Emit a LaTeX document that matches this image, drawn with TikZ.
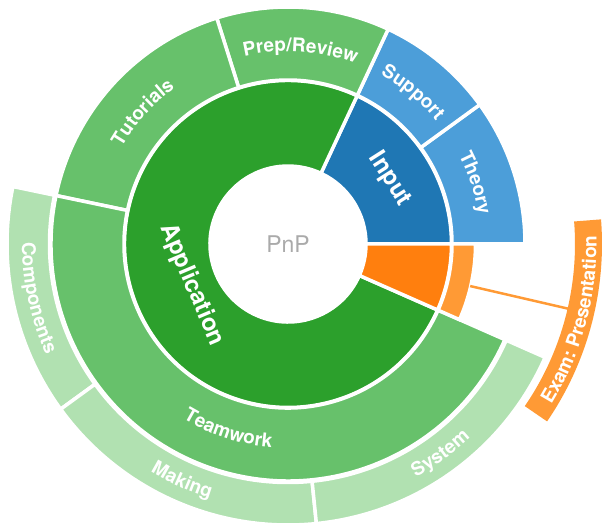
\documentclass[tikz,border=0pt]{standalone}
\usepackage{fontspec}
\setmainfont{TeX Gyre Heros}
\usetikzlibrary{decorations.text}
\definecolor{inputblue}{HTML}{1F77B4}
\definecolor{appgreen}{HTML}{2CA02C}
\definecolor{examorange}{HTML}{FF7F0E}
\definecolor{lightblue}{HTML}{4C9ED9}
\definecolor{midgreen}{HTML}{67C16B}
\definecolor{palegreen}{HTML}{B1E1B1}
\definecolor{lightorange}{HTML}{FF9A35}
\definecolor{centergrey}{HTML}{AAAAAA}
% annular sector: start angle, end angle, inner radius, outer radius, colour
\newcommand\sunseg[5]{%
  \filldraw[fill=#5, draw=white, line width=3.5pt]
    (#1:#4) arc[start angle=#1, end angle=#2, radius=#4]
    -- (#2:#3) arc[start angle=#2, end angle=#1, radius=#3] -- cycle;}
% label set along an arc: from angle, to angle, baseline radius, text
\newcommand\arclabel[4]{%
  \path[decorate, decoration={text along path, text align=center,
      text color=white, text={|\bfseries\fontsize{19}{19}\selectfont|#4}}]
    (#1:#3) arc[start angle=#1, end angle=#2, radius=#3];}
\begin{document}
\begin{tikzpicture}[x=1pt, y=1pt,
  biglabel/.style={text=white, font=\bfseries\fontsize{24}{24}\selectfont, inner sep=0pt}]
\useasboundingbox (0,0) rectangle (608,523);
\clip (0,0) rectangle (608,523);
\begin{scope}[shift={(288,279)}]
  % inner ring
  \sunseg{0}{65}{78}{163.5}{inputblue}
  \sunseg{65}{336.2}{78}{163.5}{appgreen}
  \sunseg{-23.8}{0}{78}{163.5}{examorange}
  % middle ring
  \sunseg{0}{36}{164}{237}{lightblue}
  \sunseg{36}{65}{164}{237}{lightblue}
  \sunseg{65}{107.5}{164}{237}{midgreen}
  \sunseg{107.5}{168.2}{164}{237}{midgreen}
  \sunseg{168.2}{336.2}{164}{237}{midgreen}
  \sunseg{-23.8}{0}{164}{187.5}{lightorange}
  % outer ring
  \sunseg{168.2}{216}{238.5}{281}{palegreen}
  \sunseg{216}{275.8}{238.5}{281}{palegreen}
  \sunseg{275.8}{336.2}{238.5}{281}{palegreen}
  % detached label band for the exam
  \fill[lightorange] (-34.4:314) arc[start angle=-34.4, end angle=4.5, radius=314]
    -- (4.5:287) arc[start angle=4.5, end angle=-34.4, radius=287] -- cycle;
  \coordinate (examfrom) at (-13:187);
  \coordinate (examto) at (-13:287.5);
  \draw[lightorange, line width=2.5pt] (examfrom) -- (examto);
  % labels of the inner ring
  \node[text=centergrey, font=\fontsize{23}{23}\selectfont] (pnp) at (0,0) {PnP};
  \node[biglabel, rotate=-57.5] (input) at (32.5:120.5) {Input};
  \node[biglabel, rotate=-67] (application) at (203:104.5) {Application};
  % labels of the middle ring
  \arclabel{36}{0}{192.5}{Theory}
  \arclabel{65}{36}{192.5}{Support}
  \arclabel{107.5}{65}{192.5}{Prep/Review}
  \arclabel{168.2}{107.5}{192.5}{Tutorials}
  \arclabel{168.2}{336.2}{204}{Teamwork}
  % labels of the outer ring
  \arclabel{168.2}{216}{266}{Components}
  \arclabel{216}{275.8}{266}{Making}
  \arclabel{275.8}{336.2}{266}{System}
  \arclabel{-34.4}{4.5}{308.5}{Exam: Presentation}
\end{scope}
\end{tikzpicture}
\end{document}
